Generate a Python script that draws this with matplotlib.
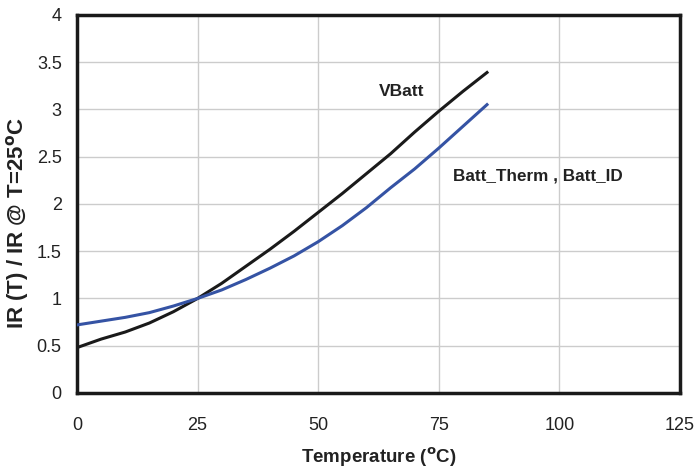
import matplotlib.pyplot as plt

plt.rcParams['font.family'] = ['Liberation Sans', 'DejaVu Sans']

temp = [0, 5, 10, 15, 20, 25, 30, 35, 40, 45, 50, 55, 60, 65, 70, 75, 80, 85]
vbatt = [0.48, 0.57, 0.645, 0.74, 0.86, 1.0, 1.16, 1.34, 1.52, 1.71, 1.91, 2.11,
         2.32, 2.53, 2.76, 2.98, 3.19, 3.39]
therm = [0.72, 0.76, 0.80, 0.85, 0.92, 1.0, 1.09, 1.20, 1.32, 1.45, 1.60, 1.77,
         1.96, 2.17, 2.37, 2.59, 2.82, 3.05]
xticks = [0, 25, 50, 75, 100, 125]
yticks = [0, 0.5, 1, 1.5, 2, 2.5, 3, 3.5, 4]

fig = plt.figure(figsize=(6.97, 4.68), dpi=100)
ax = fig.add_axes([0.1105, 0.1603, 0.865, 0.808])

ax.plot(temp, vbatt, color='#1a1a1a', lw=2.2, zorder=3, solid_joinstyle='round')
ax.plot(temp, therm, color='#3553a4', lw=2.2, zorder=3, solid_joinstyle='round')

ax.text(67.4, 3.19, 'VBatt', fontsize=12.5, fontweight='bold', color='#222222',
        ha='center', va='center')
ax.text(78.0, 2.30, 'Batt_Therm , Batt_ID', fontsize=12.3, fontweight='bold',
        color='#222222', ha='left', va='center')

ax.set_xlim(0, 125)
ax.set_ylim(0, 4)
ax.set_xticks(xticks)
ax.set_yticks(yticks)
ax.set_xticklabels([str(t) for t in xticks])
ax.set_yticklabels(['0', '0.5', '1', '1.5', '2', '2.5', '3', '3.5', '4'])
ax.tick_params(length=0, labelsize=13, colors='#222222')
ax.tick_params(axis='x', pad=17)
ax.tick_params(axis='y', pad=11)
ax.grid(True, color='#cccccc', lw=1)
ax.set_axisbelow(True)
for s in ax.spines.values():
    s.set_linewidth(2.5)
    s.set_color('#1a1a1a')

ax.set_xlabel(r'Temperature ($^{\mathbf{o}}$C)', fontsize=13.5, fontweight='bold',
              color='#222222', labelpad=9)
ax.set_ylabel(r'IR (T) / IR @ T=25$^{\mathbf{o}}$C', fontsize=16, fontweight='bold',
              color='#222222', va='center')
ax.yaxis.set_label_coords((17 - 77) / 603, (393 - 223) / 378)

fig.savefig('out.png', dpi=100)
